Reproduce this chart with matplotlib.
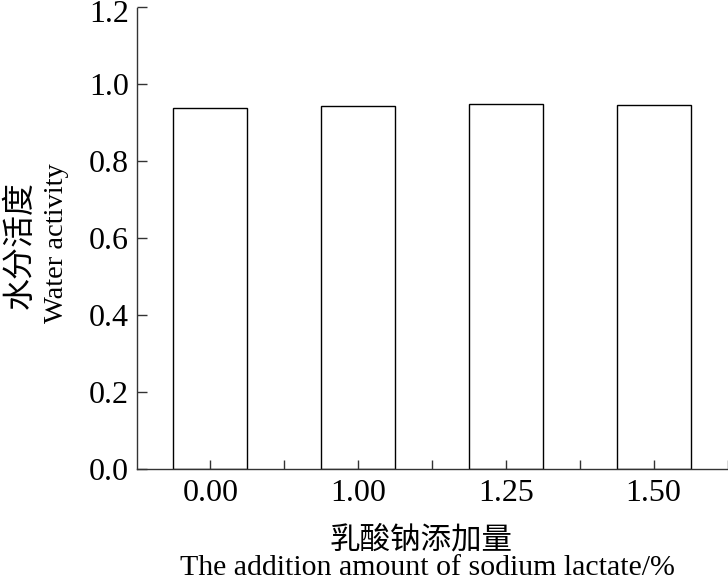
import numpy as np
import matplotlib
matplotlib.use("Agg")
import matplotlib.pyplot as plt
from matplotlib.ticker import MultipleLocator, FixedLocator, FuncFormatter
from matplotlib.transforms import ScaledTranslation

# data
categories = ["0.00", "1.00", "1.25", "1.50"]
water_activity = [0.939, 0.945, 0.948, 0.946]
y_max = 1.2

SERIF = ["Liberation Serif", "DejaVu Serif"]
CJK = ["Noto Sans CJK SC", "DejaVu Sans"]

plt.rcParams["font.family"] = SERIF
plt.rcParams["axes.linewidth"] = 1.0

fig = plt.figure(figsize=(7.28, 5.82), dpi=100)
ax = fig.add_axes([136.5 / 728, 113 / 582, (727.5 - 136.5) / 728, (469 - 7.5) / 582])

x = np.arange(len(categories))
ax.bar(x, water_activity, width=0.5, color="white", edgecolor="black", linewidth=1.0)

ax.set_xlim(-0.5, 3.5)
ax.set_ylim(0, y_max)
ax.yaxis.set_major_locator(MultipleLocator(0.2))
# the top label is drawn separately, a little lower, so it stays inside the figure
ax.yaxis.set_major_formatter(FuncFormatter(lambda v, p: "" if v > y_max - 0.01 else f"{v:.1f}"))
ax.set_xticks(x)
ax.set_xticklabels(categories)
ax.xaxis.set_minor_locator(FixedLocator([0.5, 1.5, 2.5, 3.5]))

ax.spines["top"].set_visible(False)
ax.spines["right"].set_visible(False)
for s in ("left", "bottom"):
    ax.spines[s].set_color("#333333")

ax.tick_params(axis="y", direction="in", length=7, width=1.0, labelsize=23, pad=5.5,
               colors="#333333", labelcolor="black")
ax.tick_params(axis="x", which="both", direction="in", length=6.5, width=1.0, labelsize=23, pad=7,
               colors="#333333", labelcolor="black")

top_tf = ax.get_yaxis_transform() + ScaledTranslation(-5.5 / 72, -2.8 / 72, fig.dpi_scale_trans)
ax.text(0, y_max, f"{y_max:.1f}", transform=top_tf, ha="right", va="center_baseline",
        fontsize=23, clip_on=False)

# axis titles, Chinese + English lines
fig.text(0.0275, 0.579, "水分活度", rotation=90, ha="center", va="center",
         fontsize=23, family=CJK, fontweight="light")
fig.text(0.078, 0.583, "Water activity", rotation=90, ha="center", va="center",
         fontsize=20.5, family=SERIF)
fig.text(0.578, 0.072, "乳酸钠添加量", ha="center", va="center",
         fontsize=22, family=CJK, fontweight="light")
fig.text(0.587, 0.012, "The addition amount of sodium lactate/%", ha="center", va="baseline",
         fontsize=21.5, family=SERIF)

fig.savefig("out.png", dpi=100)
